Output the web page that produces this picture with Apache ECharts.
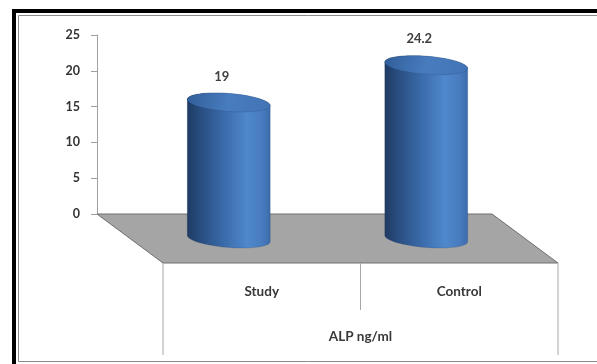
<!DOCTYPE html>
<html>
<head>
<meta charset="utf-8">
<script src="https://cdn.jsdelivr.net/npm/echarts@6/dist/echarts.min.js"></script>
<style>
  html, body { margin: 0; padding: 0; background: #ffffff; }
  #chart { width: 597px; height: 364px; }
</style>
</head>
<body>
<div id="chart"></div>
<script>
// ALP (ng/ml) in the study and control groups
const categories = ['Study', 'Control'];
const values = [19, 24.2];
const valueLabels = ['19', '24.2'];
const yTicks = [0, 5, 10, 15, 20, 25];
const axisTitle = 'ALP ng/ml';

// Pseudo-3D floor depth (pixels) and cylinder proportions
const DEPTH_X = 66;
const DEPTH_Y = 49;
const BAR_RATIO = 0.42;   // cylinder diameter relative to category band
const RY = 9;             // vertical radius of the cylinder ellipses
const SHEAR = 0.075;      // tilt of the ellipses (right side slightly lower)

const FONT = 'Lato, "Open Sans", "Liberation Sans", sans-serif';

// Points along a slightly sheared ellipse, from angle a to angle b
function ellipsePts(cx, cy, rx, ry, a, b, n) {
  const pts = [];
  for (let i = 0; i <= n; i++) {
    const t = a + (b - a) * i / n;
    const c = Math.cos(t), s = Math.sin(t);
    pts.push([cx + rx * c, cy + ry * s + SHEAR * rx * c]);
  }
  return pts;
}

const chart = echarts.init(document.getElementById('chart'), null, { renderer: 'canvas' });

// Floor, front box and category captions
function renderFloor(params, api) {
  const cs = params.coordSys;
  const x0 = cs.x, x1 = cs.x + cs.width;
  const yb = cs.y + cs.height;
  const fy = yb + DEPTH_Y;
  const band = cs.width / categories.length;
  const children = [];
  children.push({
    type: 'polygon',
    shape: { points: [[x0, yb], [x1, yb], [x1 + DEPTH_X, fy], [x0 + DEPTH_X, fy]] },
    style: { fill: '#a5a5a5', stroke: '#6f6f6f', lineWidth: 1 }
  });
  // outer verticals of the category box
  const boxBottom = fy + 92;
  children.push({ type: 'line', shape: { x1: x0 + DEPTH_X, y1: fy, x2: x0 + DEPTH_X, y2: boxBottom },
    style: { stroke: '#a6a6a6', lineWidth: 1 } });
  children.push({ type: 'line', shape: { x1: x1 + DEPTH_X, y1: fy, x2: x1 + DEPTH_X, y2: boxBottom },
    style: { stroke: '#a6a6a6', lineWidth: 1 } });
  // dividers between categories
  for (let i = 1; i < categories.length; i++) {
    const xd = x0 + band * i + DEPTH_X;
    children.push({ type: 'line', shape: { x1: xd, y1: fy, x2: xd, y2: fy + 47 },
      style: { stroke: '#a6a6a6', lineWidth: 1 } });
  }
  categories.forEach((c, i) => {
    children.push({
      type: 'text',
      style: {
        text: c, x: x0 + band * (i + 0.5) + DEPTH_X, y: fy + 29,
        align: 'center', verticalAlign: 'middle',
        font: 'bold 13.5px ' + FONT, fill: '#383838'
      }
    });
  });
  children.push({
    type: 'text',
    style: {
      text: axisTitle, x: (x0 + x1) / 2 + DEPTH_X, y: fy + 74,
      align: 'center', verticalAlign: 'middle',
      font: 'bold 13.5px ' + FONT, fill: '#383838'
    }
  });
  return { type: 'group', children: children };
}

// Cylinders standing half way into the floor depth
function renderCylinder(params, api) {
  const idx = api.value(0);
  const val = api.value(1);
  const top = api.coord([idx, val]);
  const base = api.coord([idx, 0]);
  const band = api.size([1, 0])[0];
  const rx = band * BAR_RATIO / 2;
  const cx = top[0] + DEPTH_X / 2;
  const cyTop = top[1] + DEPTH_Y / 2;
  const cyBot = base[1] + DEPTH_Y / 2;

  const body = ellipsePts(cx, cyTop, rx, RY, Math.PI, 2 * Math.PI, 40)
    .concat(ellipsePts(cx, cyBot, rx, RY, 0, Math.PI, 40));
  const cap = ellipsePts(cx, cyTop, rx, RY, 0, 2 * Math.PI, 80);

  return {
    type: 'group',
    children: [
      {
        type: 'polygon',
        shape: { points: body },
        style: {
          fill: new echarts.graphic.LinearGradient(0, 0, 1, 0, [
            { offset: 0, color: '#1e3a60' },
            { offset: 0.12, color: '#26497a' },
            { offset: 0.45, color: '#3b6cab' },
            { offset: 0.72, color: '#4f88cc' },
            { offset: 0.9, color: '#487cbf' },
            { offset: 1, color: '#3b6baa' }
          ]),
          stroke: 'rgba(30,50,90,0.3)', lineWidth: 0.6
        }
      },
      {
        type: 'polygon',
        shape: { points: cap },
        style: {
          fill: new echarts.graphic.LinearGradient(0, 0, 1, 1, [
            { offset: 0, color: '#325e99' },
            { offset: 0.5, color: '#477cbe' },
            { offset: 1, color: '#4174b5' }
          ]),
          stroke: 'rgba(40,70,120,0.4)', lineWidth: 0.6
        }
      },
      {
        type: 'text',
        style: {
          text: valueLabels[params.dataIndex],
          x: cx - 7, y: cyTop - 26,
          align: 'center', verticalAlign: 'middle',
          font: 'bold 13px ' + FONT, fill: '#404040'
        }
      }
    ]
  };
}

const option = {
  animation: false,
  backgroundColor: '#ffffff',
  grid: { left: 97, top: 35, width: 395, height: 179, containLabel: false },
  xAxis: {
    type: 'category',
    data: categories,
    show: false,
    boundaryGap: true
  },
  yAxis: {
    type: 'value',
    min: yTicks[0],
    max: yTicks[yTicks.length - 1],
    interval: yTicks[1] - yTicks[0],
    axisLine: { show: true, lineStyle: { color: '#a0a0a0', width: 1 } },
    axisTick: { show: true, length: 6, lineStyle: { color: '#a0a0a0' } },
    splitLine: { show: false },
    axisLabel: {
      margin: 17, fontFamily: FONT, fontWeight: 'bold', fontSize: 12.5, color: '#333333'
    }
  },
  graphic: [
    { type: 'rect', shape: { x: 14, y: 11, width: 640, height: 420 },
      style: { fill: 'none', stroke: '#000000', lineWidth: 4 }, z: 10 },
    { type: 'rect', shape: { x: 18.5, y: 15.5, width: 640, height: 346 },
      style: { fill: 'none', stroke: '#8a8a8a', lineWidth: 1 }, z: 10 }
  ],
  series: [
    {
      type: 'custom',
      renderItem: renderFloor,
      data: [[0]],
      z: 1,
      silent: true
    },
    {
      type: 'custom',
      renderItem: renderCylinder,
      data: values.map((v, i) => [i, v]),
      encode: { x: 0, y: 1 },
      z: 2,
      silent: true
    }
  ]
};

chart.setOption(option);
</script>
</body>
</html>
